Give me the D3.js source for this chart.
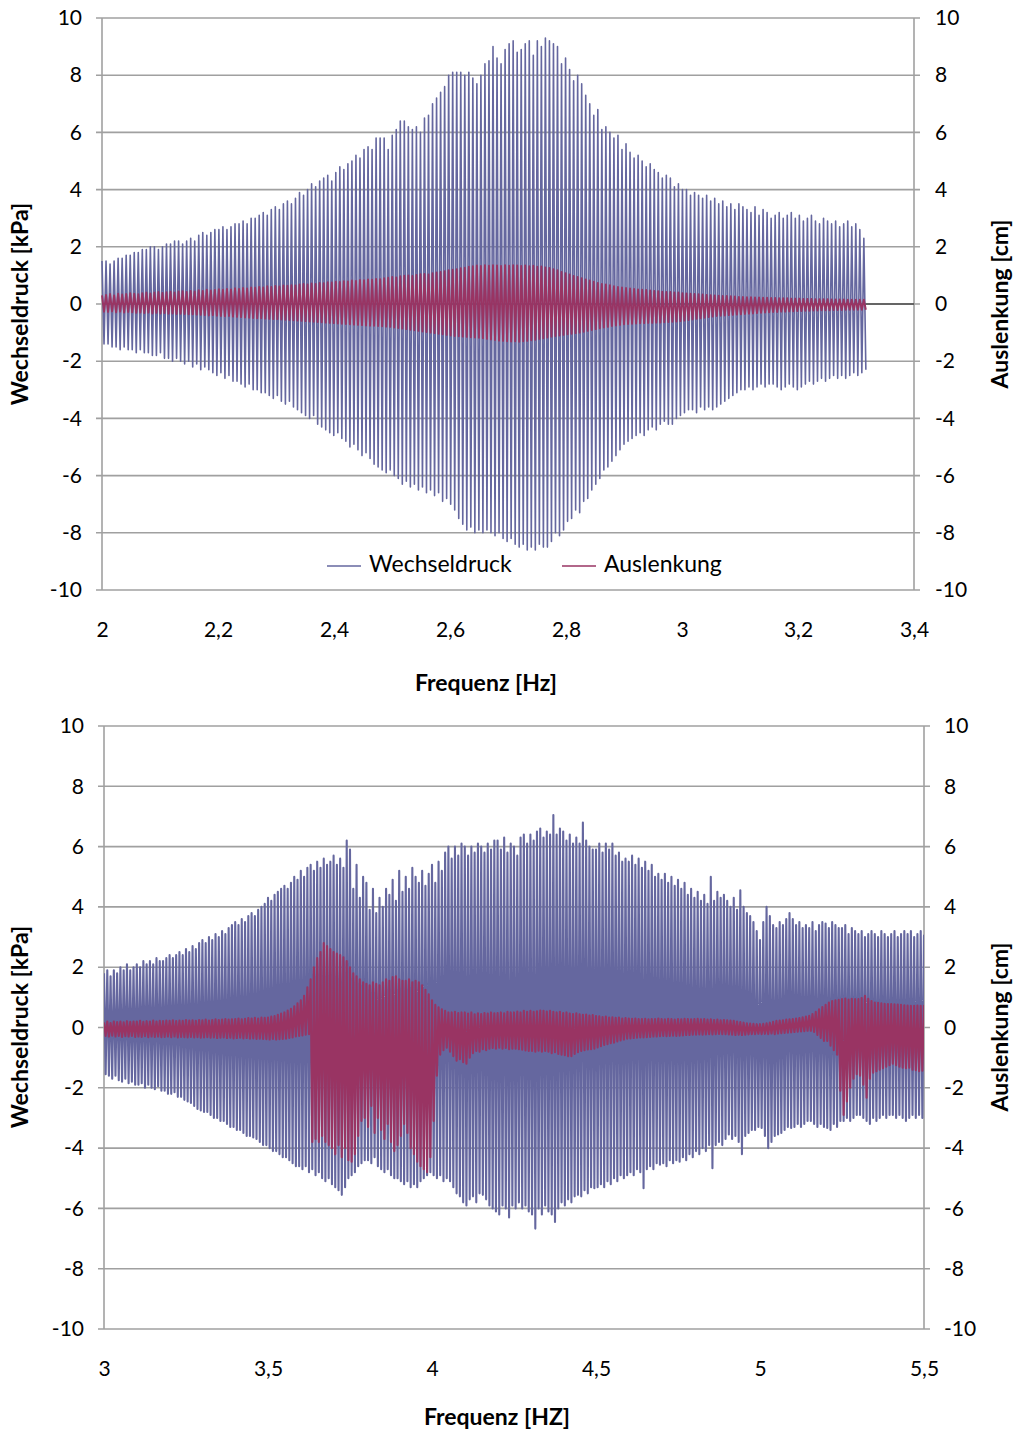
<!DOCTYPE html>
<html><head><meta charset="utf-8">
<script src="https://cdn.jsdelivr.net/npm/d3@7"></script>
<style>
html,body{margin:0;padding:0;background:#fff;}
svg{display:block;}
text{font-family:Lato,"Open Sans",sans-serif;fill:#000;}
</style></head>
<body>
<script>
// ---------------- DATA ----------------
// Tick values (labels formatted with decimal comma)
const yTicks = [-10,-8,-6,-4,-2,0,2,4,6,8,10];
const topXTicks = [2,2.2,2.4,2.6,2.8,3,3.2,3.4];
const bottomXTicks = [3,3.5,4,4.5,5,5.5];
const seriesNames = ["Wechseldruck","Auslenkung"];

// Top chart: successive oscillation peaks (one per cycle), 2.0 Hz -> 3.317 Hz
const topFreqStart = 2.0, topFreqEnd = 3.317;
const pUp = [
1.5,1.5,1.4,1.5,1.6,1.6,1.7,1.7,1.8,1.8,
1.9,1.9,2.0,2.0,1.9,2.0,2.1,2.1,2.2,2.2,
2.1,2.2,2.3,2.2,2.4,2.5,2.4,2.5,2.6,2.6,
2.7,2.6,2.7,2.8,2.8,2.9,2.8,3.0,3.0,3.1,
3.2,3.1,3.3,3.4,3.3,3.5,3.6,3.5,3.7,3.9,
3.8,4.0,4.2,4.1,4.3,4.4,4.5,4.3,4.6,4.8,
4.7,4.9,5.0,5.2,5.1,5.4,5.5,5.4,5.8,5.8,
5.8,5.4,5.9,6.1,6.4,6.4,6.2,6.1,6.2,6.0,
6.5,6.6,7.0,7.2,7.4,7.6,8.0,8.1,8.1,8.1,
8.0,8.1,7.9,7.7,8.0,8.4,8.5,9.0,8.6,8.4,
8.9,9.1,9.2,8.8,8.9,9.1,9.2,8.7,9.2,9.0,
9.3,9.2,9.1,9.0,8.4,8.6,8.2,7.8,8.0,7.7,
7.3,7.0,6.6,6.8,6.1,6.2,6.0,5.8,5.9,5.4,
5.6,5.3,5.1,5.2,5.0,4.8,4.9,4.7,4.6,4.4,
4.5,4.4,4.1,4.2,4.0,4.0,3.8,3.9,3.8,3.7,
3.8,3.6,3.7,3.5,3.6,3.4,3.5,3.3,3.5,3.4,
3.3,3.2,3.4,3.1,3.3,3.2,3.0,3.1,3.2,3.0,
3.1,3.2,3.0,3.1,2.9,3.0,3.1,2.9,2.8,3.0,
2.9,2.8,2.9,2.7,2.8,2.9,2.7,2.8,2.6,2.3];
const pLo = [
-1.4,-1.4,-1.5,-1.5,-1.6,-1.5,-1.6,-1.6,-1.7,-1.6,
-1.7,-1.7,-1.8,-1.8,-1.7,-1.9,-1.9,-2.0,-1.9,-2.0,
-2.1,-2.0,-2.2,-2.1,-2.3,-2.2,-2.3,-2.4,-2.5,-2.4,
-2.6,-2.5,-2.7,-2.7,-2.8,-2.9,-2.8,-3.0,-3.0,-3.1,
-3.1,-3.2,-3.3,-3.2,-3.4,-3.5,-3.4,-3.6,-3.7,-3.8,
-3.9,-4.0,-3.9,-4.2,-4.3,-4.4,-4.5,-4.6,-4.5,-4.7,
-4.8,-5.0,-4.9,-5.1,-5.3,-5.2,-5.4,-5.6,-5.7,-5.8,
-5.9,-5.8,-6.0,-6.1,-6.3,-6.2,-6.4,-6.3,-6.5,-6.4,
-6.6,-6.5,-6.7,-6.6,-6.9,-6.8,-7.0,-7.2,-7.5,-7.7,
-7.9,-7.8,-8.0,-7.9,-8.0,-7.9,-8.0,-8.1,-8.0,-8.2,
-8.3,-8.2,-8.4,-8.5,-8.4,-8.6,-8.5,-8.6,-8.4,-8.5,
-8.5,-8.3,-8.0,-8.1,-7.9,-7.6,-7.5,-7.2,-7.3,-6.9,
-6.8,-6.5,-6.3,-6.1,-5.8,-5.7,-5.5,-5.3,-5.1,-4.9,
-4.8,-4.7,-4.6,-4.5,-4.6,-4.4,-4.3,-4.4,-4.2,-4.1,
-4.2,-4.2,-4.0,-3.9,-3.8,-3.7,-3.7,-3.8,-3.6,-3.7,
-3.6,-3.7,-3.6,-3.5,-3.4,-3.3,-3.2,-3.1,-3.0,-3.0,
-2.9,-3.0,-2.9,-2.8,-2.9,-2.8,-2.8,-2.9,-3.0,-2.9,
-2.8,-2.9,-3.0,-2.9,-2.8,-2.7,-2.8,-2.7,-2.6,-2.7,
-2.6,-2.5,-2.6,-2.5,-2.6,-2.5,-2.4,-2.5,-2.4,-2.3];
const dUp = [
0.30,0.32,0.35,0.30,0.36,0.33,0.35,0.38,0.36,0.34,
0.38,0.40,0.37,0.40,0.42,0.39,0.41,0.43,0.40,0.44,
0.45,0.42,0.46,0.44,0.48,0.46,0.50,0.47,0.49,0.52,
0.50,0.53,0.51,0.55,0.53,0.56,0.54,0.58,0.57,0.60,
0.58,0.62,0.60,0.63,0.61,0.65,0.64,0.66,0.65,0.68,
0.70,0.68,0.72,0.70,0.74,0.73,0.76,0.75,0.78,0.77,
0.80,0.79,0.82,0.81,0.84,0.83,0.86,0.85,0.88,0.87,
0.90,0.92,0.95,0.93,0.97,0.99,1.00,0.98,1.02,1.04,
1.05,1.03,1.08,1.10,1.12,1.15,1.18,1.20,1.22,1.25,
1.27,1.30,1.32,1.35,1.33,1.36,1.34,1.36,1.35,1.33,
1.36,1.34,1.36,1.35,1.33,1.35,1.32,1.34,1.30,1.31,
1.28,1.26,1.22,1.18,1.12,1.08,1.03,0.98,0.95,0.90,
0.86,0.82,0.78,0.74,0.70,0.68,0.66,0.62,0.60,0.58,
0.56,0.54,0.53,0.51,0.50,0.49,0.47,0.46,0.45,0.43,
0.42,0.42,0.40,0.40,0.38,0.37,0.36,0.35,0.34,0.33,
0.32,0.31,0.30,0.29,0.28,0.28,0.27,0.26,0.25,0.25,
0.24,0.24,0.23,0.23,0.22,0.22,0.21,0.21,0.20,0.20,
0.20,0.19,0.19,0.19,0.18,0.18,0.18,0.17,0.17,0.17,
0.17,0.16,0.16,0.16,0.16,0.15,0.15,0.15,0.15,0.15];
const dLo = [
-0.27,-0.28,-0.26,-0.29,-0.27,-0.30,-0.28,-0.29,-0.31,-0.30,
-0.32,-0.30,-0.33,-0.31,-0.33,-0.32,-0.34,-0.33,-0.35,-0.34,
-0.35,-0.36,-0.36,-0.37,-0.38,-0.39,-0.40,-0.39,-0.41,-0.42,
-0.43,-0.42,-0.44,-0.45,-0.46,-0.47,-0.48,-0.49,-0.50,-0.50,
-0.51,-0.52,-0.53,-0.53,-0.54,-0.55,-0.56,-0.57,-0.58,-0.59,
-0.60,-0.61,-0.62,-0.63,-0.64,-0.65,-0.66,-0.67,-0.68,-0.69,
-0.70,-0.71,-0.72,-0.73,-0.74,-0.75,-0.76,-0.76,-0.77,-0.78,
-0.79,-0.80,-0.82,-0.84,-0.86,-0.88,-0.90,-0.92,-0.94,-0.96,
-0.98,-1.00,-1.02,-1.04,-1.06,-1.08,-1.10,-1.12,-1.13,-1.14,
-1.15,-1.16,-1.17,-1.18,-1.20,-1.22,-1.24,-1.26,-1.28,-1.29,
-1.30,-1.31,-1.30,-1.32,-1.30,-1.29,-1.27,-1.25,-1.22,-1.20,
-1.17,-1.14,-1.12,-1.10,-1.08,-1.06,-1.04,-1.02,-1.00,-0.97,
-0.94,-0.91,-0.88,-0.85,-0.82,-0.80,-0.77,-0.75,-0.73,-0.71,
-0.70,-0.69,-0.68,-0.67,-0.67,-0.66,-0.66,-0.65,-0.65,-0.64,
-0.63,-0.62,-0.61,-0.60,-0.58,-0.56,-0.54,-0.52,-0.50,-0.48,
-0.46,-0.44,-0.42,-0.41,-0.40,-0.39,-0.38,-0.37,-0.36,-0.35,
-0.34,-0.33,-0.32,-0.31,-0.30,-0.29,-0.28,-0.28,-0.27,-0.27,
-0.26,-0.26,-0.25,-0.25,-0.24,-0.24,-0.23,-0.23,-0.22,-0.22,
-0.22,-0.21,-0.21,-0.21,-0.20,-0.20,-0.20,-0.20,-0.20,-0.20];

// Bottom chart: upper / lower peak values every 0.01 Hz, 3.00 Hz -> 5.50 Hz
const bottomFreqStart = 3.0, bottomFreqStep = 0.01;
const bUp = [
1.8,1.9,1.7,1.9,1.8,2.0,1.9,2.1,1.9,2.0,
2.1,2.0,2.2,2.1,2.2,2.1,2.3,2.2,2.2,2.3,
2.4,2.3,2.4,2.5,2.4,2.6,2.5,2.7,2.6,2.8,
2.9,2.8,3.0,2.9,3.1,3.0,3.2,3.1,3.3,3.4,
3.5,3.4,3.6,3.5,3.7,3.8,3.7,3.9,4.0,4.1,
4.3,4.2,4.4,4.5,4.6,4.7,4.6,4.8,5.0,4.9,
5.2,5.0,5.3,5.4,5.2,5.5,5.3,5.6,5.4,5.5,
5.7,5.4,5.6,5.3,6.2,5.9,4.6,5.4,4.3,5.0,
4.8,3.9,4.6,3.8,4.3,4.0,4.6,4.4,4.9,4.2,
5.2,4.5,5.0,4.6,5.3,5.0,4.8,5.2,4.7,5.1,
5.4,4.8,5.5,5.2,5.8,6.0,5.6,6.0,5.7,6.1,
6.0,5.7,6.0,5.8,6.1,6.0,5.8,6.1,5.9,6.2,
6.2,5.9,6.3,5.8,6.1,6.0,5.7,6.3,6.4,6.1,
6.4,6.2,6.5,6.6,6.3,6.5,6.4,7.05,6.4,6.6,
6.5,6.2,6.4,6.1,6.3,6.1,6.8,6.2,6.0,5.9,
5.9,6.1,5.8,6.1,5.9,6.1,5.7,5.8,5.5,5.6,
5.5,5.7,5.4,5.6,5.3,5.5,5.2,5.4,5.0,5.1,
4.9,5.1,4.8,5.0,4.7,4.9,4.6,4.8,4.4,4.6,
4.3,4.5,4.2,4.4,4.1,5.0,4.2,4.5,4.3,4.4,
4.2,4.0,4.3,3.9,4.55,4.0,3.8,3.7,3.5,3.2,
2.9,3.5,4.0,3.7,3.4,3.3,3.5,3.4,3.6,3.8,
3.6,3.4,3.5,3.3,3.4,3.3,3.5,3.2,3.4,3.5,
3.45,3.3,3.5,3.4,3.3,3.3,3.4,3.1,3.3,3.2,
3.1,3.2,3.0,3.1,3.2,3.1,3.0,3.2,3.1,3.0,
3.1,3.2,3.0,3.1,3.2,3.1,3.2,3.0,3.1,3.2,
3.05];
const bLo = [
-1.55,-1.6,-1.7,-1.6,-1.75,-1.8,-1.7,-1.85,-1.8,-1.9,
-1.9,-1.85,-2.0,-1.9,-2.0,-2.05,-1.95,-2.1,-2.1,-2.2,
-2.2,-2.15,-2.3,-2.3,-2.4,-2.45,-2.5,-2.6,-2.7,-2.75,
-2.8,-2.8,-2.9,-3.0,-3.0,-3.1,-3.1,-3.2,-3.3,-3.3,
-3.4,-3.4,-3.5,-3.6,-3.6,-3.65,-3.7,-3.8,-3.9,-3.9,
-4.0,-4.1,-4.1,-4.2,-4.3,-4.3,-4.4,-4.5,-4.6,-4.6,
-4.7,-4.6,-4.8,-4.7,-4.9,-4.8,-5.0,-5.1,-5.0,-5.2,
-5.3,-5.4,-5.55,-5.3,-5.0,-4.9,-4.8,-4.6,-4.5,-4.4,
-4.4,-4.5,-4.3,-4.6,-4.7,-4.8,-4.7,-4.9,-5.0,-5.0,
-5.1,-5.2,-5.1,-5.3,-5.2,-5.3,-5.1,-5.0,-4.9,-4.8,
-4.9,-5.0,-4.9,-5.1,-5.0,-5.1,-5.3,-5.5,-5.6,-5.8,
-5.9,-5.7,-5.6,-5.8,-5.5,-5.55,-5.7,-5.9,-6.0,-6.1,
-6.2,-5.9,-6.0,-6.3,-5.9,-6.0,-5.8,-6.0,-5.9,-6.1,
-6.2,-6.67,-6.0,-6.2,-5.9,-6.1,-6.2,-6.45,-6.0,-5.8,
-5.9,-5.7,-5.8,-5.6,-5.55,-5.6,-5.4,-5.5,-5.3,-5.33,
-5.3,-5.2,-5.3,-5.1,-5.2,-5.0,-5.1,-4.9,-5.0,-4.9,
-4.8,-4.9,-4.7,-4.8,-5.33,-4.7,-4.6,-4.7,-4.5,-4.55,
-4.5,-4.6,-4.4,-4.5,-4.4,-4.45,-4.3,-4.4,-4.2,-4.3,
-4.1,-4.2,-4.0,-4.1,-3.9,-4.67,-3.9,-3.8,-3.9,-3.7,
-3.55,-3.7,-3.6,-3.8,-4.2,-3.6,-3.5,-3.4,-3.4,-3.3,
-3.33,-3.6,-4.0,-3.8,-3.6,-3.55,-3.5,-3.4,-3.3,-3.33,
-3.3,-3.2,-3.3,-3.2,-3.1,-3.1,-3.2,-3.3,-3.2,-3.3,
-3.33,-3.4,-3.2,-3.3,-3.1,-3.1,-3.0,-3.1,-3.0,-2.9,
-2.9,-3.0,-3.1,-3.2,-3.0,-3.1,-3.0,-2.9,-3.0,-2.9,
-2.9,-3.0,-2.9,-3.0,-3.1,-3.0,-2.9,-3.0,-2.9,-3.0,
-2.9];
const rUp = [
0.17,0.2,0.15,0.2,0.18,0.2,0.17,0.21,0.19,0.2,
0.2,0.22,0.19,0.21,0.2,0.23,0.2,0.22,0.21,0.23,
0.22,0.24,0.21,0.23,0.22,0.25,0.23,0.24,0.22,0.25,
0.24,0.26,0.23,0.25,0.27,0.25,0.26,0.28,0.26,0.27,
0.28,0.3,0.27,0.29,0.31,0.3,0.32,0.3,0.33,0.32,
0.33,0.36,0.38,0.42,0.46,0.5,0.56,0.62,0.7,0.8,
0.9,1.05,1.33,1.6,2.0,2.3,2.5,2.8,2.7,2.6,
2.5,2.45,2.4,2.33,2.2,2.0,1.8,1.7,1.6,1.5,
1.45,1.4,1.5,1.45,1.4,1.5,1.6,1.55,1.67,1.7,
1.6,1.55,1.55,1.6,1.5,1.55,1.5,1.4,1.25,1.1,
0.9,0.75,0.67,0.6,0.55,0.5,0.5,0.52,0.48,0.5,
0.5,0.46,0.5,0.44,0.47,0.45,0.48,0.46,0.5,0.47,
0.48,0.5,0.47,0.52,0.5,0.5,0.53,0.5,0.55,0.52,
0.55,0.52,0.54,0.56,0.55,0.53,0.55,0.52,0.5,0.52,
0.48,0.5,0.46,0.45,0.47,0.44,0.42,0.43,0.4,0.41,
0.38,0.37,0.35,0.36,0.33,0.34,0.32,0.33,0.3,0.31,
0.3,0.29,0.3,0.28,0.28,0.29,0.27,0.28,0.28,0.3,
0.28,0.27,0.29,0.28,0.26,0.28,0.27,0.29,0.28,0.27,
0.28,0.29,0.27,0.28,0.26,0.27,0.25,0.26,0.24,0.25,
0.24,0.23,0.22,0.2,0.18,0.16,0.14,0.13,0.12,0.11,
0.11,0.12,0.14,0.16,0.19,0.22,0.23,0.24,0.26,0.27,
0.28,0.3,0.31,0.34,0.36,0.39,0.45,0.52,0.6,0.68,
0.75,0.83,0.88,0.9,0.92,0.94,0.96,0.93,0.95,0.94,
0.94,0.98,1.05,0.95,0.88,0.83,0.82,0.8,0.79,0.78,
0.78,0.77,0.76,0.75,0.74,0.73,0.72,0.72,0.73,0.72,
0.72];
const rLo = [
-0.28,-0.3,-0.27,-0.3,-0.28,-0.31,-0.29,-0.3,-0.28,-0.31,
-0.3,-0.31,-0.29,-0.32,-0.3,-0.31,-0.3,-0.32,-0.31,-0.3,
-0.32,-0.3,-0.33,-0.31,-0.32,-0.33,-0.31,-0.33,-0.32,-0.34,
-0.33,-0.32,-0.34,-0.33,-0.35,-0.34,-0.33,-0.35,-0.34,-0.36,
-0.35,-0.34,-0.36,-0.35,-0.37,-0.36,-0.38,-0.37,-0.38,-0.39,
-0.4,-0.38,-0.4,-0.39,-0.38,-0.37,-0.35,-0.33,-0.3,-0.28,
-0.26,-0.24,-0.22,-3.8,-3.7,-3.8,-3.6,-3.8,-3.9,-4.0,
-4.2,-3.9,-4.3,-4.0,-4.4,-4.45,-4.2,-3.6,-3.1,-3.0,
-3.3,-2.6,-3.5,-3.0,-3.4,-3.7,-3.2,-3.8,-4.1,-3.9,
-3.6,-3.2,-3.5,-4.0,-4.2,-4.45,-4.6,-4.7,-4.8,-4.3,
-3.1,-1.6,-0.9,-0.75,-0.67,-0.8,-0.95,-1.1,-1.05,-1.15,
-1.2,-1.0,-0.85,-0.78,-0.8,-0.72,-0.75,-0.7,-0.68,-0.7,
-0.67,-0.7,-0.68,-0.72,-0.7,-0.7,-0.72,-0.74,-0.76,-0.78,
-0.78,-0.8,-0.77,-0.8,-0.78,-0.8,-0.85,-0.82,-0.88,-0.9,
-0.92,-0.95,-0.95,-0.88,-0.82,-0.78,-0.75,-0.73,-0.72,-0.7,
-0.66,-0.62,-0.58,-0.55,-0.52,-0.5,-0.46,-0.43,-0.4,-0.37,
-0.36,-0.35,-0.34,-0.33,-0.33,-0.32,-0.31,-0.3,-0.3,-0.29,
-0.28,-0.29,-0.28,-0.27,-0.28,-0.27,-0.26,-0.25,-0.25,-0.24,
-0.24,-0.23,-0.24,-0.23,-0.22,-0.23,-0.22,-0.21,-0.22,-0.22,
-0.23,-0.24,-0.25,-0.24,-0.25,-0.24,-0.23,-0.22,-0.22,-0.21,
-0.22,-0.21,-0.22,-0.2,-0.22,-0.2,-0.19,-0.18,-0.17,-0.16,
-0.15,-0.14,-0.13,-0.12,-0.11,-0.11,-0.15,-0.25,-0.35,-0.45,
-0.45,-0.6,-0.75,-0.9,-2.1,-2.9,-2.45,-2.0,-1.7,-1.55,
-1.6,-1.9,-2.33,-1.7,-1.5,-1.45,-1.4,-1.35,-1.3,-1.25,
-1.2,-1.25,-1.3,-1.33,-1.35,-1.33,-1.4,-1.42,-1.45,-1.43,
-1.45];

// ---------------- DRAWING ----------------
const W = 1023, H = 1434;
const BLUE = "#65679f", RED = "#993463", GRID = "#a0a0a0";
const fmt = v => String(v).replace(".", ",");
const svg = d3.select("body").append("svg").attr("width", W).attr("height", H);

function frame(cfg) {
  const {x, yL} = cfg;
  const [x0, x1] = x.range();
  const g = svg.append("g");
  g.append("g").selectAll("line").data(yTicks).join("line")
    .attr("x1", x0 - 6).attr("x2", x1 + 6)
    .attr("y1", d => yL(d)).attr("y2", d => yL(d))
    .attr("stroke", GRID).attr("stroke-width", 1.6);
  [x0, x1].forEach(xx => g.append("line")
    .attr("x1", xx).attr("x2", xx).attr("y1", yL(10)).attr("y2", yL(-10))
    .attr("stroke", GRID).attr("stroke-width", 1.6));
  g.append("line").attr("x1", x0).attr("x2", x1)
    .attr("y1", yL(0)).attr("y2", yL(0))
    .attr("stroke", "#4a4a4a").attr("stroke-width", 1.4);
  return g;
}

function labels(cfg) {
  const {x, yL, yR, xTicks, rightPad, xTitle, xTitleX, xTitleY, titleCY} = cfg;
  const [x0, x1] = x.range();
  const aL = svg.append("g").attr("transform", `translate(${x0},0)`)
    .call(d3.axisLeft(yL).tickValues(yTicks).tickFormat(fmt).tickSize(0).tickPadding(20));
  const aR = svg.append("g").attr("transform", `translate(${x1},0)`)
    .call(d3.axisRight(yR).tickValues(yTicks).tickFormat(fmt).tickSize(0).tickPadding(rightPad));
  const aB = svg.append("g").attr("transform", `translate(0,${yL(-10)})`)
    .call(d3.axisBottom(x).tickValues(xTicks).tickFormat(fmt).tickSize(0).tickPadding(32));
  [aL, aR, aB].forEach(a => {
    a.select(".domain").remove();
    a.selectAll("text").style("font-size", "21px").style("font-family", "Lato").attr("fill", "#000");
  });
  svg.append("text").attr("x", xTitleX).attr("y", xTitleY)
    .attr("text-anchor", "middle").attr("dominant-baseline", "middle")
    .style("font-weight", "bold").style("font-size", "23px").text(xTitle);
  svg.append("text").attr("transform", `translate(22,${titleCY}) rotate(-90)`)
    .attr("text-anchor", "middle").attr("dominant-baseline", "middle")
    .style("font-weight", "bold").style("font-size", "23px").text("Wechseldruck [kPa]");
  svg.append("text").attr("transform", `translate(1002,${titleCY}) rotate(-90)`)
    .attr("text-anchor", "middle").attr("dominant-baseline", "middle")
    .style("font-weight", "bold").style("font-size", "23px").text("Auslenkung [cm]");
}

// zig-zag through successive peaks: max of cycle i, then min of cycle i
function zig(up, lo, start, step) {
  const pts = [];
  up.forEach((u, i) => {
    pts.push([start + i * step, u]);
    pts.push([start + (i + 0.5) * step, lo[i]]);
  });
  return pts;
}

// ---- Top chart ----
const xT = d3.scaleLinear().domain([2, 3.4]).range([102, 914]);
const yTL = d3.scaleLinear().domain([-10, 10]).range([590, 18]);
const yTR = d3.scaleLinear().domain([-10, 10]).range([590, 18]);
frame({x: xT, yL: yTL});

const topStep = (topFreqEnd - topFreqStart) / (pUp.length - 0.5);
const lineTL = d3.line().x(d => xT(d[0])).y(d => yTL(d[1]));
const lineTR = d3.line().x(d => xT(d[0])).y(d => yTR(d[1]));
svg.append("path").attr("d", lineTL(zig(pUp, pLo, topFreqStart, topStep)))
  .attr("fill", "none").attr("stroke", BLUE).attr("stroke-width", 1.6).attr("stroke-linejoin", "round");
svg.append("path").attr("d", lineTR(zig(dUp, dLo, topFreqStart, topStep)))
  .attr("fill", "none").attr("stroke", RED).attr("stroke-width", 1.9).attr("stroke-linejoin", "round");

labels({x: xT, yL: yTL, yR: yTR, xTicks: topXTicks, rightPad: 21,
  xTitle: "Frequenz [Hz]", xTitleX: 486, xTitleY: 685, titleCY: 304});

const leg = svg.append("g").attr("transform", "translate(0,566)");
[[327, BLUE, seriesNames[0]], [562, RED, seriesNames[1]]].forEach(([lx, c, t]) => {
  leg.append("line").attr("x1", lx).attr("x2", lx + 34).attr("y1", 0).attr("y2", 0)
    .attr("stroke", c).attr("stroke-width", 1.6);
  leg.append("text").attr("x", lx + 42).attr("y", 0).attr("dominant-baseline", "middle")
    .style("font-size", "23px").text(t);
});

// ---- Bottom chart ----
const xB = d3.scaleLinear().domain([3, 5.5]).range([104, 924]);
const yBL = d3.scaleLinear().domain([-10, 10]).range([1329, 726]);
const yBR = d3.scaleLinear().domain([-10, 10]).range([1329, 726]);
frame({x: xB, yL: yBL});

svg.append("clipPath").attr("id", "clipB").append("rect")
  .attr("x", 104).attr("y", 726).attr("width", 820).attr("height", 603);
const gB = svg.append("g").attr("clip-path", "url(#clipB)");
const lineBL = d3.line().x(d => xB(d[0])).y(d => yBL(d[1]));
const lineBR = d3.line().x(d => xB(d[0])).y(d => yBR(d[1]));
gB.append("path").attr("d", lineBL(zig(bUp, bLo, bottomFreqStart, bottomFreqStep)))
  .attr("fill", "none").attr("stroke", BLUE).attr("stroke-width", 2.1).attr("stroke-linejoin", "round");
gB.append("path").attr("d", lineBR(zig(rUp, rLo, bottomFreqStart, bottomFreqStep)))
  .attr("fill", "none").attr("stroke", RED).attr("stroke-width", 2.1).attr("stroke-linejoin", "round");

labels({x: xB, yL: yBL, yR: yBR, xTicks: bottomXTicks, rightPad: 20,
  xTitle: "Frequenz [HZ]", xTitleX: 497, xTitleY: 1419, titleCY: 1027});
</script>
</body></html>
